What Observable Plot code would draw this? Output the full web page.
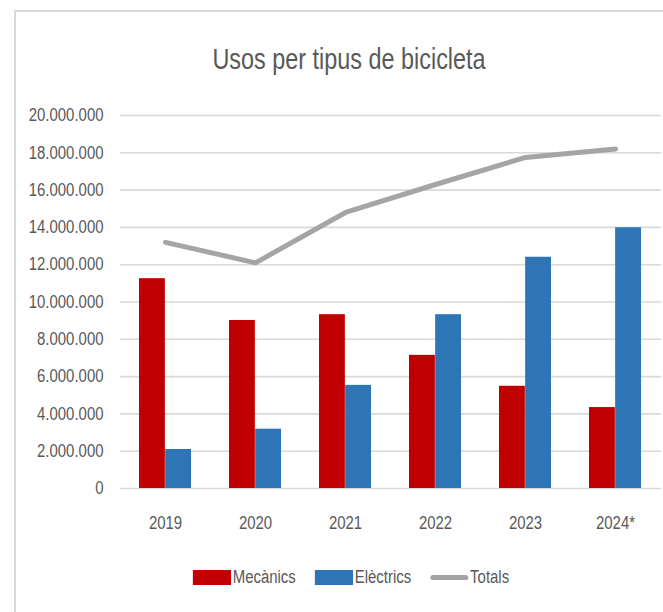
<!DOCTYPE html>
<html>
<head>
<meta charset="utf-8">
<script src="https://cdn.jsdelivr.net/npm/d3@7"></script>
<script src="https://cdn.jsdelivr.net/npm/@observablehq/plot@0.6"></script>
<style>
  html, body { margin: 0; padding: 0; background: #fff; }
  body { width: 663px; height: 612px; position: relative; overflow: hidden;
         font-family: "Liberation Sans", Arial, sans-serif; color: #595959; }
  #frame { position: absolute; left: 14px; top: 10px; width: 700px; height: 700px;
           border-left: 2px solid #d9d9d9; border-top: 2px solid #d9d9d9; }
  #title { position: absolute; left: 349px; top: 40px; transform: translateX(-50%) scaleX(0.78);
           font-size: 30px; white-space: nowrap; line-height: 38px; }
  #chart { position: absolute; left: 0; top: 90px; }
  #legend { position: absolute; left: 351px; top: 565px; transform: translateX(-50%) scaleX(0.83);
            display: flex; align-items: center; gap: 23px; font-size: 18px; white-space: nowrap; line-height: 24px; }
  .item { display: flex; align-items: center; gap: 2px; }
  .sw { width: 46px; height: 15px; }
  .ln { width: 46px; height: 5px; border-radius: 3px; }
</style>
</head>
<body>
<div id="frame"></div>
<div id="title">Usos per tipus de bicicleta</div>
<div id="chart"></div>
<div id="legend"></div>
<script>
const years = ["2019", "2020", "2021", "2022", "2023", "2024*"];
const mecanics = [11250000, 9010000, 9320000, 7140000, 5480000, 4340000];
const electrics = [2090000, 3180000, 5530000, 9320000, 12400000, 13980000];
const totals = [13200000, 12100000, 14800000, 16300000, 17750000, 18200000];
const yTicks = [0, 2000000, 4000000, 6000000, 8000000, 10000000, 12000000, 14000000, 16000000, 18000000, 20000000];
const seriesNames = ["Mecànics", "Elèctrics", "Totals"];
const seriesColors = ["#c00000", "#2e75b6", "#a5a5a5"];

const table = years.map((y, i) => ({year: y, mec: mecanics[i], ele: electrics[i], tot: totals[i]}));
const fmt = d3.formatLocale({decimal: ",", thousands: ".", grouping: [3], currency: ["", "€"]}).format(",d");

const W = 663, H = 460, mL = 120, mR = 2, mT = 25, mB = 62;
const pIn = 0.42, pOut = 0.21;
const step = (W - mL - mR) / (years.length - pIn + 2 * pOut);
const half = step * (1 - pIn) / 2;

const chart = Plot.plot({
  width: W, height: H,
  marginLeft: mL, marginRight: mR, marginTop: mT, marginBottom: mB,
  style: {fontSize: "18px", fontFamily: "'Liberation Sans', Arial, sans-serif", color: "#595959", background: "transparent", overflow: "visible"},
  x: {type: "band", domain: years, paddingInner: pIn, paddingOuter: pOut, tickSize: 0, tickPadding: 28, label: null},
  y: {domain: [0, 20000000], ticks: yTicks, tickFormat: fmt, tickSize: 0, tickPadding: 17, label: null},
  marks: [
    Plot.ruleY(yTicks, {stroke: "#d9d9d9", strokeWidth: 1.6}),
    Plot.barY(table, {x: "year", y: "mec", fill: seriesColors[0], insetRight: half}),
    Plot.barY(table, {x: "year", y: "ele", fill: seriesColors[1], insetLeft: half}),
    Plot.lineY(table, {x: "year", y: "tot", stroke: seriesColors[2], strokeWidth: 5, strokeLinecap: "round", strokeLinejoin: "round"})
  ]
});
document.getElementById("chart").appendChild(chart);

// condense the axis text like the reference's narrow font
chart.querySelectorAll("text").forEach(t => {
  const len = t.getComputedTextLength();
  if (len > 0) {
    t.setAttribute("textLength", (len * 0.83).toFixed(2));
    t.setAttribute("lengthAdjust", "spacingAndGlyphs");
  }
});

const legend = document.getElementById("legend");
seriesNames.forEach((name, i) => {
  const item = document.createElement("div");
  item.className = "item";
  const sw = document.createElement("div");
  sw.className = i < 2 ? "sw" : "ln";
  sw.style.background = seriesColors[i];
  const label = document.createElement("span");
  label.textContent = name;
  item.appendChild(sw);
  item.appendChild(label);
  legend.appendChild(item);
});
</script>
</body>
</html>
